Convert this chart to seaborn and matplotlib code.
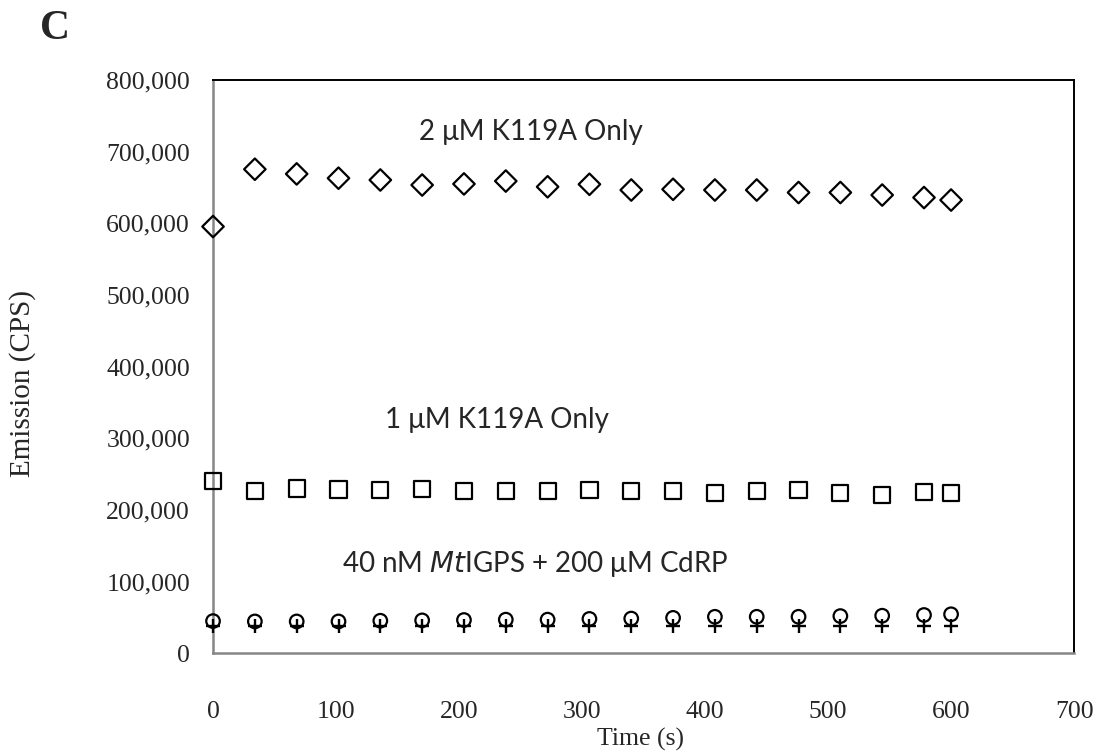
import numpy as np
import pandas as pd
import matplotlib
matplotlib.use("Agg")
import matplotlib.pyplot as plt
import seaborn as sns
from matplotlib.ticker import FuncFormatter, MultipleLocator

# time points (s)
time_s = [0, 34, 68, 102, 136, 170, 204, 238, 272, 306, 340, 374, 408, 442, 476, 510, 544, 578, 600]

# 2 uM K119A only (diamonds)
k119a_2um = [595500, 675500, 669000, 663000, 660500, 653500, 655000, 659000, 651000, 654500,
             646500, 647500, 646500, 646500, 643000, 643000, 639500, 636000, 632500]
# 1 uM K119A only (squares)
k119a_1um = [240500, 226300, 230000, 228600, 227600, 229000, 226300, 226300, 226300, 227600,
             226300, 226300, 223900, 226300, 227600, 223500, 220700, 225000, 223500]
# 40 nM MtIGPS + 200 uM CdRP (circles and plus)
igps_circle = [45000, 44500, 44500, 44500, 45500, 46000, 46500, 47000, 47000, 48000,
               48500, 49500, 51000, 51000, 51000, 52000, 52500, 53500, 54500]
igps_plus = [38000, 37500, 37500, 37500, 38000, 38000, 38000, 38000, 37500, 38000,
             38000, 38000, 38000, 38000, 38000, 38000, 38000, 38000, 38000]

labels = ["2 \u03bcM K119A Only", "1 \u03bcM K119A Only"]

df = pd.DataFrame({"time": time_s, "k2": k119a_2um, "k1": k119a_1um,
                   "circ": igps_circle, "plus": igps_plus})

sns.set_style("white")
plt.rcParams["font.family"] = ["Liberation Serif", "DejaVu Serif"]

fig = plt.figure(figsize=(10.97, 7.52), dpi=100)
ax = fig.add_axes([0.1942, 0.1312, 0.7849, 0.7624])

sns.scatterplot(data=df, x="time", y="k2", ax=ax, marker="D", s=120, facecolor="none",
                edgecolor="black", linewidth=1.6, clip_on=False, zorder=3)
sns.scatterplot(data=df, x="time", y="k1", ax=ax, marker="s", s=135, facecolor="none",
                edgecolor="black", linewidth=1.6, clip_on=False, zorder=3)
sns.scatterplot(data=df, x="time", y="plus", ax=ax, marker="+", s=110, color="black",
                linewidth=1.7, clip_on=False, zorder=3)
sns.scatterplot(data=df, x="time", y="circ", ax=ax, marker="o", s=95, facecolor="none",
                edgecolor="black", linewidth=1.6, clip_on=False, zorder=3)

ax.set_xlim(0, 700)
ax.set_ylim(0, 800000)
ax.xaxis.set_major_locator(MultipleLocator(100))
ax.yaxis.set_major_locator(MultipleLocator(100000))
ax.yaxis.set_major_formatter(FuncFormatter(lambda v, p: f"{int(v):,}"))
ax.tick_params(axis="y", length=0, pad=16.5, labelsize=18.5)
ax.tick_params(axis="x", length=0, pad=34, labelsize=18.5)
ax.grid(False)

for side in ["left", "bottom"]:
    ax.spines[side].set_color("#868686")
    ax.spines[side].set_linewidth(1.8)
for side in ["top", "right"]:
    ax.spines[side].set_color("black")
    ax.spines[side].set_linewidth(1.4)

ax.set_xlabel("Time (s)", fontsize=18.5)
ax.set_ylabel("Emission (CPS)", fontsize=21)
ax.xaxis.set_label_coords(0.496, -0.13)
ax.yaxis.set_label_coords(-0.2056, 0.4715)

note_font = ["Lato", "DejaVu Sans"]
ax.text(258, 728000, labels[0], ha="center", va="center", fontsize=20, family=note_font)
ax.text(231, 326000, labels[1], ha="center", va="center", fontsize=20, family=note_font)
ax.text(262, 124000, "40 nM $\\it{Mt}$IGPS + 200 \u03bcM CdRP", ha="center", va="center",
        fontsize=20, family=note_font)

fig.text(0.05, 0.962, "C", fontsize=30, fontweight="bold", ha="center", va="center")

fig.savefig("out.png", dpi=100)
